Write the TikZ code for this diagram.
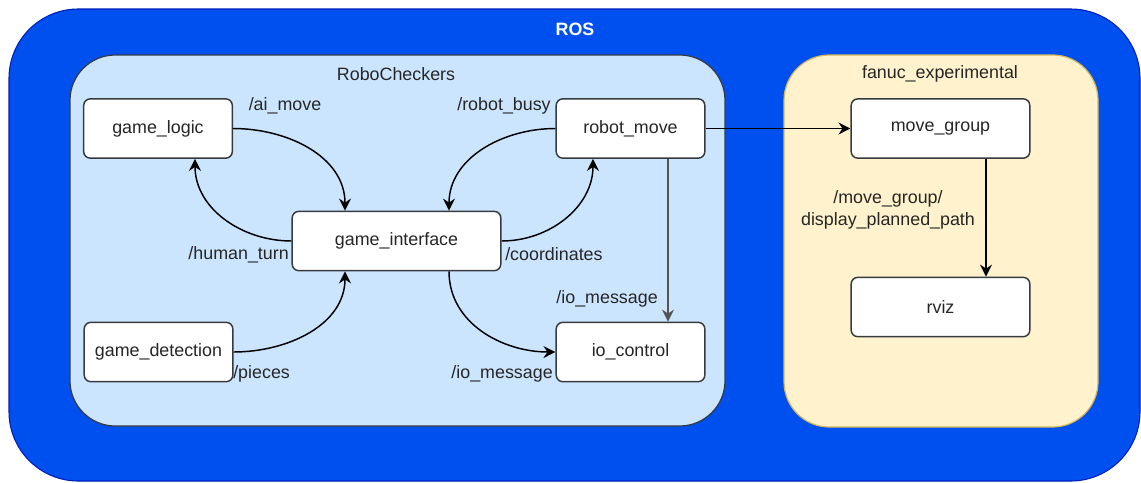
\documentclass[tikz,border=0pt]{standalone}
\usepackage{fontspec}
\setmainfont{Liberation Sans}
\usetikzlibrary{arrows.meta,calc}
\definecolor{rosfill}{HTML}{0050EF}
\definecolor{rosdraw}{HTML}{001DBC}
\definecolor{rcfill}{HTML}{CCE5FF}
\definecolor{rcdraw}{HTML}{36393D}
\definecolor{fefill}{HTML}{FFF2CC}
\definecolor{fedraw}{HTML}{D6B656}
\definecolor{txt}{HTML}{262626}
\definecolor{edgegray}{HTML}{555555}
\tikzset{
  every node/.style={font=\fontsize{13.4}{16}\selectfont, text=txt},
  rosbox/.style={fill=rosfill, draw=rosdraw, line width=0.8pt, rounded corners=52pt},
  rcbox/.style={fill=rcfill, draw=rcdraw, line width=0.9pt, rounded corners=34pt},
  febox/.style={fill=fefill, draw=fedraw, line width=0.9pt, rounded corners=34pt},
  rosnode/.style={draw=rcdraw, fill=white, line width=1.1pt, rounded corners=5pt,
    minimum width=111.5pt, minimum height=44.5pt, inner sep=0pt},
  wide/.style={minimum width=134pt},
  topic/.style={inner sep=0pt},
  conn/.style={draw=black, line width=1.1pt, -{Stealth[length=9pt,width=9pt,inset=3pt]}},
}
\begin{document}
\begin{tikzpicture}[x=0.75pt,y=-0.75pt]
\useasboundingbox (0,0) rectangle (1141,482);
% containers
\draw[rosbox] (9,9) rectangle (1140,481);
\node[topic, text=white, font=\fontsize{13.4}{16}\selectfont\bfseries] (roslbl) at (575,29) {ROS};
\draw[rcbox] (70,55) rectangle (725,426);
\node[topic] (rclbl) at (396,74) {RoboCheckers};
\draw[febox] (784,55) rectangle (1098,427);
\node[topic] (felbl) at (940,74) {fanuc\_experimental};
% nodes
\node[rosnode] (gl) at (158,128.5) {game\_logic};
\node[rosnode] (rm) at (630.5,128.5) {robot\_move};
\node[rosnode, minimum width=156.5pt] (gi) at (396.5,241) {game\_interface};
\node[rosnode] (gd) at (158.5,352) {game\_detection};
\node[rosnode] (io) at (630.5,352) {io\_control};
\node[rosnode, wide] (mg) at (940.5,128.5) {move\_group};
\node[rosnode, wide] (rv) at (940.5,307) {rviz};
% connectors
\draw[conn] (gl.east) to[out=0,in=90] ($(gi.north)+(-51.5,0)$);
\draw[conn] (gi.west) to[out=180,in=-90] ($(gl.south)+(37,0)$);
\draw[conn] (rm.west) to[out=180,in=90] ($(gi.north)+(52.5,0)$);
\draw[conn] (gi.east) to[out=0,in=-90] ($(rm.south)+(-37.5,0)$);
\draw[conn] (gd.east) to[out=0,in=-90] ($(gi.south)+(-51.5,0)$);
\draw[conn] ($(gi.south)+(52.5,0)$) to[out=-90,in=180] (io.west);
\draw[conn, draw=edgegray] ($(rm.south)+(37.5,0)$) -- ($(io.north)+(37.5,0)$);
\draw[conn] (rm.east) -- (mg.west);
\draw[conn] ($(mg.south)+(45.5,0)$) -- ($(rv.north)+(45.5,0)$);
% topic labels
\node[topic] (t1) at (285,106) {/ai\_move};
\node[topic] (t2) at (504,106) {/robot\_busy};
\node[topic, anchor=east] (t3) at (289,255) {/human\_turn};
\node[topic, anchor=west] (t4) at (505,254) {/coordinates};
\node[topic, anchor=east] (t5) at (658,299) {/io\_message};
\node[topic, anchor=east] (t6) at (553,374) {/io\_message};
\node[topic, anchor=west] (t7) at (233,374) {/pieces};
\node[topic, align=center] (t8) at (888,210) {/move\_group/\\display\_planned\_path};
\end{tikzpicture}
\end{document}
